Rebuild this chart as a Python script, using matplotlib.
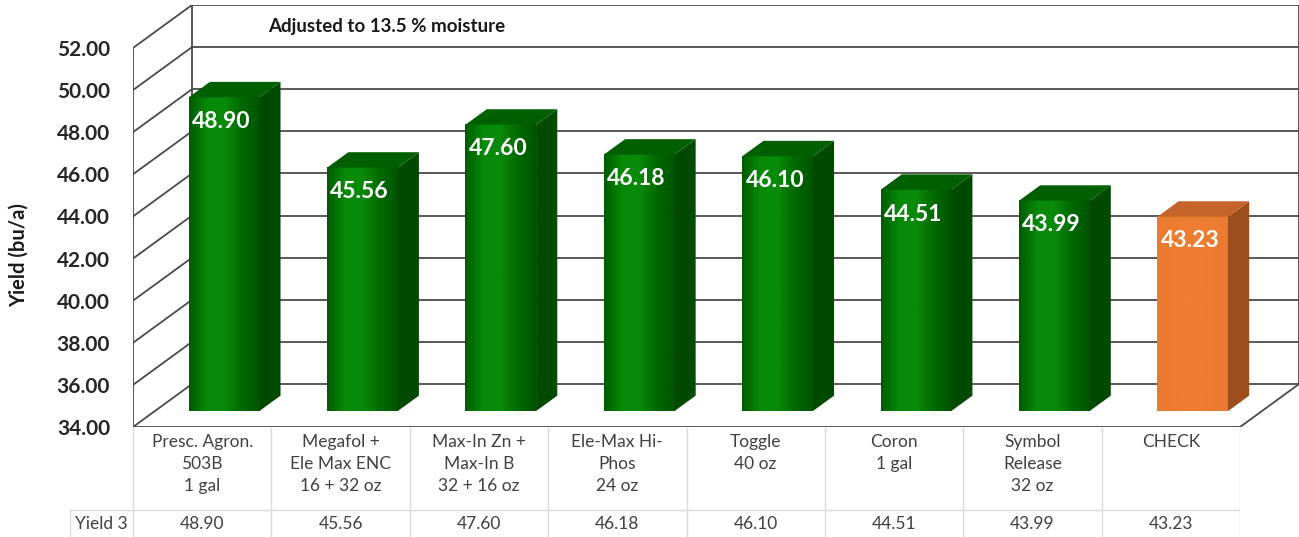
import numpy as np
import matplotlib
matplotlib.use('Agg')
import matplotlib.pyplot as plt
from matplotlib.patches import Polygon
from matplotlib.colors import LinearSegmentedColormap

categories = ['Presc. Agron.\n503B\n1 gal', 'Megafol +\nEle Max ENC\n16 + 32 oz',
              'Max-In Zn +\nMax-In B\n32 + 16 oz', 'Ele-Max Hi-\nPhos\n24 oz',
              'Toggle\n40 oz', 'Coron\n1 gal', 'Symbol\nRelease\n32 oz', 'CHECK']
yields = [48.90, 45.56, 47.60, 46.18, 46.10, 44.51, 43.99, 43.23]
series_name = 'Yield 3'
yticks = [34, 36, 38, 40, 42, 44, 46, 48, 50, 52]

plt.rcParams['font.family'] = ['Lato', 'DejaVu Sans']

W, H = 1299, 537
fig = plt.figure(figsize=(W / 100, H / 100), dpi=100)

# 3D projection offsets (wall depth) in data units
DX, DY = 0.426, 2.04
Y0, Y1 = 34, 52
n = len(categories)
ax = fig.add_axes([133 / W, (H - 427) / H, (1299 - 133) / W, (427 - 5) / H])
ax.set_xlim(-0.5, n - 0.5 + DX)
ax.set_ylim(Y0, Y1 + DY)
ax.axis('off')

gc = '#4a4a4a'
lw = 1.3
# back wall and left wall grid
for t in yticks:
    ax.plot([-0.5 + DX, n - 0.5 + DX], [t + DY, t + DY], color=gc, lw=lw, zorder=1)
    ax.plot([-0.5, -0.5 + DX], [t, t + DY], color=gc, lw=lw, zorder=1)
ax.plot([-0.5, -0.5], [Y0, Y1], color=gc, lw=lw, zorder=1)
ax.plot([-0.5 + DX, -0.5 + DX], [Y0 + DY, Y1 + DY], color=gc, lw=lw, zorder=1)
ax.plot([n - 0.5 + DX, n - 0.5 + DX], [Y0 + DY, Y1 + DY], color=gc, lw=lw, zorder=1)
# floor
ax.plot([-0.5, n - 0.5], [Y0, Y0], color=gc, lw=lw, zorder=1)
ax.plot([n - 0.5, n - 0.5 + DX], [Y0, Y0 + DY], color=gc, lw=lw, zorder=1)

for t in yticks:
    fig.text(110 / W, 1 - (429 - (t - Y0) * (379 / 18)) / H, f'{t:.2f}',
             ha='right', va='center', fontsize=15, fontweight='bold', color='#262626')

ax.text(0.476, Y1 + DY - 1.0, 'Adjusted to 13.5 % moisture', ha='left', va='center',
        fontsize=13.5, fontweight='bold', color='#1a1a1a')

# bars
f0, fd = 0.37, 0.36
bw = 0.255
green_cm = LinearSegmentedColormap.from_list('g', ['#005c00', '#078a07', '#0a8a0a', '#006a00', '#005400'])
orange_cm = LinearSegmentedColormap.from_list('o', ['#ea7a2e', '#ed7d31', '#ed7d31', '#e97a2f'])
grad = np.linspace(0, 1, 64).reshape(1, -1)
for i, v in enumerate(yields):
    check = categories[i] == 'CHECK'
    ox, oy = f0 * DX, f0 * DY
    ddx, ddy = fd * DX, fd * DY
    x0, x1 = i - bw + ox, i + bw + ox
    b, tp = Y0 + oy, v + oy
    cm = orange_cm if check else green_cm
    side = '#9c4f1c' if check else '#004a00'
    top = '#c4632a' if check else '#005f00'
    ax.imshow(grad, cmap=cm, extent=[x0, x1, b, tp], aspect='auto', zorder=3,
              interpolation='bilinear')
    ax.add_patch(Polygon([[x1, b], [x1 + ddx, b + ddy], [x1 + ddx, tp + ddy], [x1, tp]],
                         closed=True, fc=side, ec='none', zorder=3))
    ax.add_patch(Polygon([[x0, tp], [x0 + ddx, tp + ddy], [x1 + ddx, tp + ddy], [x1, tp]],
                         closed=True, fc=top, ec='none', zorder=3))
    ax.text(i + ox - 0.02, tp - 1.15, f'{v:.2f}', ha='center', va='center', color='white',
            fontsize=16.5, fontweight='bold', zorder=4)

ax.set_xlim(-0.5, n - 0.5 + DX)
ax.set_ylim(Y0, Y1 + DY)

fig.text(19 / W, 1 - 255 / H, 'Yield (bu/a)', rotation=90, ha='center', va='center',
         fontsize=14.5, fontweight='bold', color='#1a1a1a')

# data table
hw = 63 / 138.375
tax = fig.add_axes([70 / W, 0, (1240 - 70) / W, (537 - 427) / H])
tax.set_xlim(-0.5 - hw, n - 0.5)
tax.set_ylim(110, 0)
tax.axis('off')
tcol = '#d9d9d9'
tax.plot([-0.5 - hw, n - 0.5], [83, 83], color=tcol, lw=1)
tax.plot([-0.5 - hw, -0.5 - hw], [83, 110], color=tcol, lw=1)
for k in range(n + 1):
    tax.plot([k - 0.5, k - 0.5], [1, 110], color=tcol, lw=1)
for i, (c, v) in enumerate(zip(categories, yields)):
    tax.text(i, 7, c, ha='center', va='top', fontsize=12.5, color='#404040', linespacing=1.45)
    tax.text(i, 97, f'{v:.2f}', ha='center', va='center', fontsize=12.5, color='#404040')
tax.text(-0.5 - hw / 2, 97, series_name, ha='center', va='center', fontsize=12.5, color='#404040')

fig.savefig('out.png', dpi=100)
